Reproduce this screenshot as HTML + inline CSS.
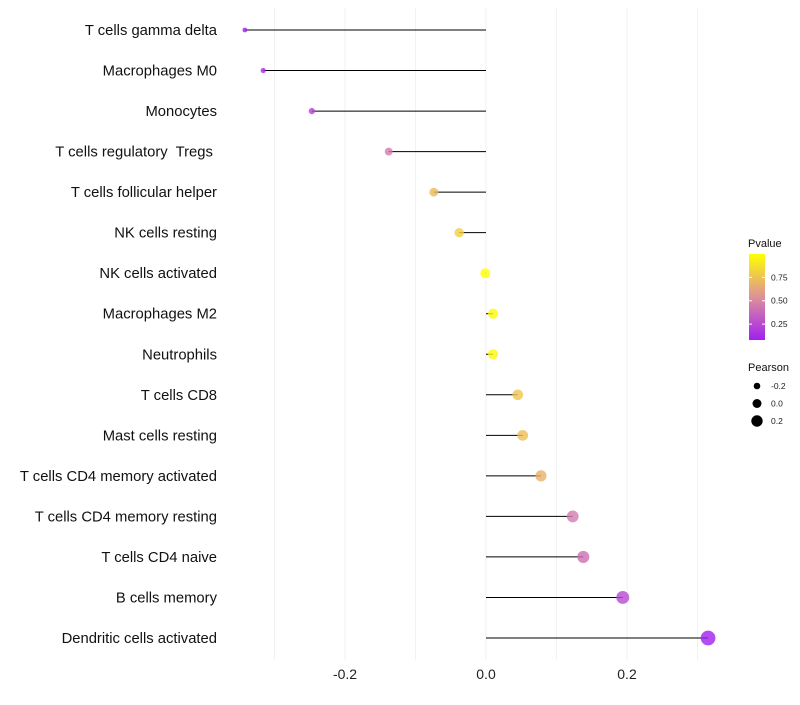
<!DOCTYPE html>
<html><head><meta charset="utf-8"><style>
body{margin:0;background:#fff;font-family:"Liberation Sans",sans-serif}
text{white-space:pre}
</style></head><body>
<svg id="c" width="800" height="700" xmlns="http://www.w3.org/2000/svg" xml:space="preserve"></svg>
<script>
const categories=["T cells gamma delta","Macrophages M0","Monocytes","T cells regulatory  Tregs ","T cells follicular helper","NK cells resting","NK cells activated","Macrophages M2","Neutrophils","T cells CD8","Mast cells resting","T cells CD4 memory activated","T cells CD4 memory resting","T cells CD4 naive","B cells memory","Dendritic cells activated"];
const pearson=[-0.342,-0.316,-0.247,-0.138,-0.074,-0.038,-0.001,0.010,0.010,0.045,0.052,0.078,0.123,0.138,0.194,0.315];
const pvalue=[0.05,0.12,0.22,0.45,0.72,0.80,1.0,0.97,0.97,0.76,0.73,0.68,0.45,0.40,0.25,0.05];
const xTicks=[-0.2,0.0,0.2];
const xTickLabels=["-0.2","0.0","0.2"];
const colorTicks=[0.25,0.50,0.75];
const sizeTicks=[-0.2,0.0,0.2];
const svg=document.getElementById('c');
const NS="http://www.w3.org/2000/svg";
function mk(t,a,p){const e=document.createElementNS(NS,t);for(const k in a)e.setAttribute(k,a[k]);(p||svg).appendChild(e);return e;}
const x=v=>486+v*705;
const y=i=>30+i*(608/15);
const r=v=>Math.max(1.5,5+7.5*v);
function lerp(a,b,t){return a.map((v,i)=>Math.round(v+(b[i]-v)*t));}
function col(p){const s=[[0.08,[160,32,240]],[0.5,[218,135,165]],[1.0,[255,255,0]]];p=Math.max(0.08,Math.min(1,p));
 for(let i=0;i<2;i++){if(p<=s[i+1][0]){const c=lerp(s[i][1],s[i+1][1],(p-s[i][0])/(s[i+1][0]-s[i][0]));return `rgb(${c})`;}}return 'rgb(255,255,0)';}
[-0.3,-0.2,-0.1,0,0.1,0.2,0.3].forEach(v=>{const g=mk('line',{x1:x(v),x2:x(v),y1:8,y2:660,stroke:'#f2f2f2','stroke-width':1});
});
xTicks.forEach((v,i)=>{const t=mk('text',{x:x(v),y:679,'text-anchor':'middle','font-size':14,fill:'#222'});t.textContent=xTickLabels[i];
});
categories.forEach((c,i)=>{
 const t=mk('text',{x:217,y:y(i)+5,'text-anchor':'end','font-size':14.8,fill:'#111'});t.textContent=c;
 
 const l=mk('line',{x1:x(0),x2:x(pearson[i]),y1:y(i),y2:y(i),stroke:'#000','stroke-width':1});
 
 const d=mk('circle',{cx:x(pearson[i]),cy:y(i),r:r(pearson[i]),fill:col(pvalue[i]),'fill-opacity':0.8});
 
});
const defs=mk('defs',{});const gr=mk('linearGradient',{id:'g',x1:0,y1:1,x2:0,y2:0},defs);
[0,0.25,0.5,0.75,1].forEach(f=>mk('stop',{offset:f,'stop-color':col(0.08+f*0.92)},gr));
let t=mk('text',{x:748,y:247,'font-size':11,fill:'#111'});t.textContent='Pvalue';

const bar=mk('rect',{x:749,y:254,width:16,height:86,fill:'url(#g)'});

const cy=p=>340-(p-0.08)/0.92*86;
colorTicks.forEach(p=>{mk('line',{x1:749,x2:752,y1:cy(p),y2:cy(p),stroke:'#fff'});mk('line',{x1:762,x2:765,y1:cy(p),y2:cy(p),stroke:'#fff'});
 const tt=mk('text',{x:771,y:cy(p)+3,'font-size':8.5,fill:'#222'});tt.textContent=p.toFixed(2);
 });
t=mk('text',{x:748,y:371,'font-size':11,fill:'#111'});t.textContent='Pearson';

sizeTicks.forEach((v,i)=>{const yy=386+i*17.5;const c=mk('circle',{cx:757,cy:yy,r:r(v)*0.8+0.5,fill:'#000'});
 
 const tt=mk('text',{x:771,y:yy+3,'font-size':8.5,fill:'#222'});tt.textContent=v.toFixed(1);
 });
</script>
</body></html>
